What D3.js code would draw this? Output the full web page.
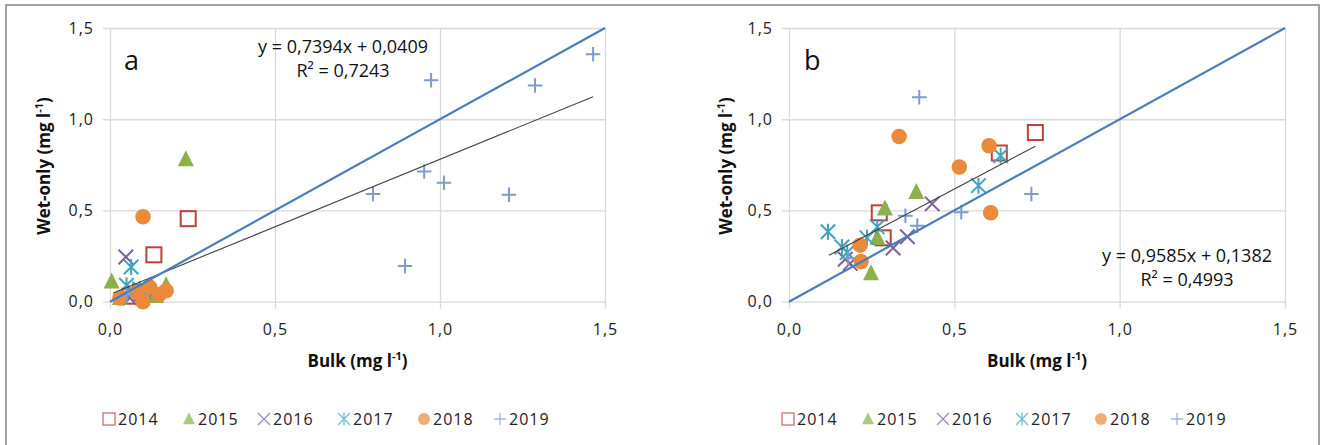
<!DOCTYPE html>
<html><head><meta charset="utf-8">
<script src="https://cdn.jsdelivr.net/npm/d3@7"></script>
<style>
html,body{margin:0;padding:0;background:#fff;}
svg{display:block;font-family:"Open Sans",sans-serif;}
</style></head>
<body>
<svg id="chart" width="1325" height="445"></svg>
<script>
// ---------- data ----------
const years = ["2014","2015","2016","2017","2018","2019"];
const tickValues = [0, 0.5, 1.0, 1.5];

// Panel a  [bulk, wet-only]
const a2014 = [[0.237,0.455],[0.133,0.257],[0.06,0.03],[0.1,0.05]];
const a2015 = [[0.23,0.78],[0.005,0.11],[0.17,0.09],[0.03,0.02],[0.14,0.03]];
const a2016 = [[0.048,0.245],[0.06,0.02],[0.09,0.04]];
const a2017 = [[0.064,0.19],[0.05,0.09],[0.07,0.06],[0.09,0.07],[0.12,0.05]];
const a2018 = [[0.1,0.466],[0.03,0.02],[0.1,0.0],[0.12,0.08],[0.15,0.04],[0.17,0.06],[0.08,0.05]];
const a2019 = [[0.973,1.213],[1.464,1.356],[1.288,1.185],[0.952,0.713],[1.012,0.652],[0.797,0.59],[1.209,0.586],[0.894,0.196],[0.05,0.04]];

// Panel b
const b2014 = [[0.273,0.487],[0.285,0.35],[0.745,0.927],[0.636,0.815]];
const b2015 = [[0.29,0.51],[0.385,0.6],[0.248,0.155],[0.267,0.35]];
const b2016 = [[0.433,0.536],[0.358,0.356],[0.315,0.294],[0.17,0.233],[0.185,0.21]];
const b2017 = [[0.118,0.383],[0.16,0.3],[0.236,0.35],[0.267,0.41],[0.573,0.636],[0.64,0.8],[0.176,0.27]];
const b2018 = [[0.333,0.905],[0.515,0.738],[0.605,0.855],[0.61,0.487],[0.215,0.31],[0.218,0.22]];
const b2019 = [[0.394,1.12],[0.352,0.471],[0.388,0.416],[0.521,0.49],[0.733,0.59],[0.179,0.24]];

// Trend lines: slope, intercept, x-range
const trendA = {slope:0.7394, intercept:0.0409, x0:0.01, x1:1.464, eq:"y = 0,7394x + 0,0409", r2:"0,7243"};
const trendB = {slope:0.9585, intercept:0.1382, x0:0.121, x1:0.745, eq:"y = 0,9585x + 0,1382", r2:"0,4993"};
const oneToOne = [[0,0],[1.5,1.5]];

// ---------- styling ----------
const colors = {"2014":"#B9413E","2015":"#8DB04B","2016":"#7D5FA0","2017":"#3FA4BE","2018":"#EC8A3C","2019":"#7F9ACB"};
const gridColor = "#D9D9D9";
const loc = d3.formatLocale({decimal:",", thousands:".", grouping:[3], currency:["",""]});
const fmt = loc.format(".1f");

const svg = d3.select("#chart");
// outer frame
svg.append("rect").attr("x",6).attr("y",5).attr("width",1313).attr("height",460)
   .attr("fill","none").attr("stroke","#8c8c8c").attr("stroke-width",1.6);

function marker(g, year, x, y, s, legend){
  const c = colors[year];
  const sw = legend ? 1.4 : 2;
  if(year==="2014"){
    g.append("rect").attr("x",x-s/2).attr("y",y-s/2).attr("width",s).attr("height",s)
     .attr("fill","none").attr("stroke",c).attr("stroke-width",sw);
  } else if(year==="2015"){
    const h = s*0.95;
    g.append("path").attr("d",`M${x},${y-h*0.6}L${x+s/2},${y+h*0.45}L${x-s/2},${y+h*0.45}Z`).attr("fill",c);
  } else if(year==="2016"){
    const r=s/2;
    g.append("path").attr("d",`M${x-r},${y-r}L${x+r},${y+r}M${x-r},${y+r}L${x+r},${y-r}`)
     .attr("stroke",c).attr("stroke-width",sw).attr("fill","none");
  } else if(year==="2017"){
    const r=s/2;
    g.append("path").attr("d",`M${x-r},${y-r}L${x+r},${y+r}M${x-r},${y+r}L${x+r},${y-r}M${x},${y-r*1.1}L${x},${y+r*1.1}`)
     .attr("stroke",c).attr("stroke-width",sw).attr("fill","none");
  } else if(year==="2018"){
    g.append("circle").attr("cx",x).attr("cy",y).attr("r",s/2).attr("fill",c);
  } else {
    const r=s/2;
    g.append("path").attr("d",`M${x-r},${y}L${x+r},${y}M${x},${y-r}L${x},${y+r}`)
     .attr("stroke",c).attr("stroke-width",sw).attr("fill","none");
  }
}

function panel(cfg){
  const x = d3.scaleLinear().domain([0,1.5]).range([cfg.left, cfg.right]);
  const y = d3.scaleLinear().domain([0,1.5]).range([301.7, 28]);
  const g = svg.append("g");
  const W = cfg.right-cfg.left, H = 301.7-28;
  // y axis + horizontal grid
  const ya = g.append("g").attr("transform",`translate(${cfg.left-7},0)`)
    .call(d3.axisLeft(y).tickValues(tickValues).tickFormat(fmt).tickSize(-(W+7)).tickPadding(9));
  // x axis + vertical grid
  const xa = g.append("g").attr("transform",`translate(0,${301.7+7})`)
    .call(d3.axisBottom(x).tickValues(tickValues).tickFormat(fmt).tickSize(-(H+7)).tickPadding(15));
  [ya,xa].forEach(a=>{
    a.select(".domain").remove();
    a.selectAll(".tick line").attr("stroke",gridColor).attr("stroke-width",1.3);
    a.selectAll(".tick text").attr("fill","#222").style("font-size","16px")
     .style("letter-spacing","1px").style("font-family","Open Sans");
  });
  // markers
  const mg = g.append("g");
  cfg.series.forEach((data,i)=>{
    const yr = years[i];
    data.forEach(d=> marker(mg, yr, x(d[0]), y(d[1]), yr==="2018"?15.5:(yr==="2015"?16:(yr==="2014"?15:14.5)), false));
  });
  // trend line
  const t = cfg.trend;
  g.append("line").attr("x1",x(t.x0)).attr("y1",y(t.slope*t.x0+t.intercept))
   .attr("x2",x(t.x1)).attr("y2",y(t.slope*t.x1+t.intercept))
   .attr("stroke","#404040").attr("stroke-width",1.1);
  // 1:1 line
  g.append("path").datum(oneToOne)
   .attr("d",d3.line().x(d=>x(d[0])).y(d=>y(d[1])))
   .attr("stroke","#4A7EBB").attr("stroke-width",2.2).attr("fill","none");
  // equation
  g.append("text").attr("x",cfg.eqX).attr("y",cfg.eqY).attr("text-anchor","middle")
   .style("font-size","18px").attr("fill","#111").text(t.eq);
  g.append("text").attr("x",cfg.eqX).attr("y",cfg.eqY+24).attr("text-anchor","middle")
   .style("font-size","18px").attr("fill","#111").text("R² = "+t.r2);
  // panel label
  g.append("text").attr("x",cfg.labX).attr("y",70).style("font-size","27px").attr("fill","#111").text(cfg.label);
  // axis titles
  const xt = g.append("text").attr("x",(cfg.left+cfg.right)/2).attr("y",367).attr("text-anchor","middle")
    .style("font-size","17px").style("font-weight","bold").attr("fill","#111");
  xt.append("tspan").text("Bulk (mg l");
  xt.append("tspan").attr("dy",-7).style("font-size","11px").text("-1");
  xt.append("tspan").attr("dy",7).text(")");
  const yt = g.append("text").attr("transform",`translate(${cfg.ytX},166) rotate(-90)`).attr("text-anchor","middle")
    .style("font-size","17px").style("font-weight","bold").attr("fill","#111");
  yt.append("tspan").text("Wet-only (mg l");
  yt.append("tspan").attr("dy",-7).style("font-size","11px").text("-1");
  yt.append("tspan").attr("dy",7).text(")");
  // legend
  const lg = g.append("g");
  years.forEach((yr,i)=>{
    const mx = cfg.legX[i];
    const mgL = lg.append("g").attr("opacity",0.7);
    marker(mgL, yr, mx, 419, 12, true);
    lg.append("text").attr("x",mx+9).attr("y",425).style("font-size","16px")
      .style("letter-spacing","1px").attr("fill","#222").text(yr);
  });
}

panel({left:110, right:605, series:[a2014,a2015,a2016,a2017,a2018,a2019], trend:trendA,
  eqX:343, eqY:53, labX:124, label:"a", ytX:50,
  legX:[109,189,264,344,424,500]});
panel({left:789, right:1285, series:[b2014,b2015,b2016,b2017,b2018,b2019], trend:trendB,
  eqX:1187, eqY:262, labX:804, label:"b", ytX:732,
  legX:[788,868,943,1022,1101,1177]});
</script>
</body></html>
